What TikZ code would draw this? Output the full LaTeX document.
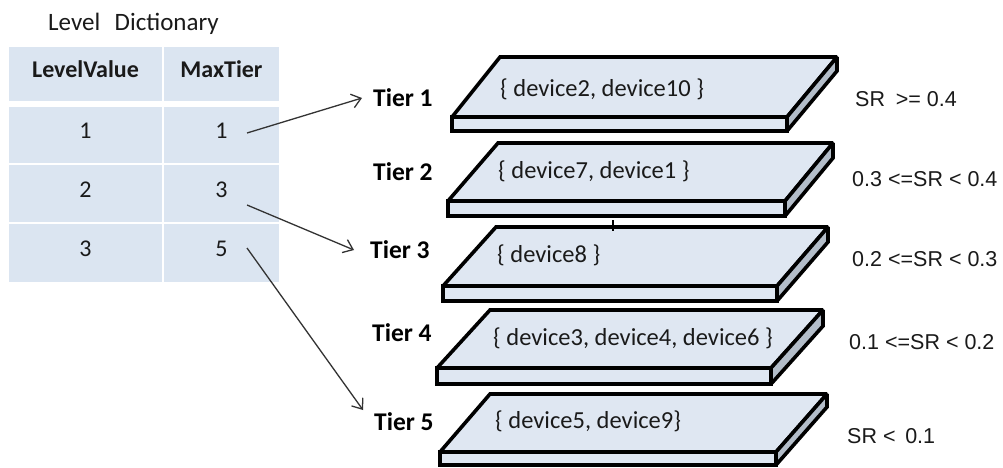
\documentclass[tikz,border=0pt]{standalone}
\usepackage{fontspec}
\setmainfont{Carlito}
\newfontfamily\arialf{Liberation Sans}
\usetikzlibrary{arrows.meta}
\definecolor{tabfill}{HTML}{DBE5F1}
\definecolor{slabfill}{HTML}{DFE7F2}
\definecolor{slabside}{HTML}{B3BDC9}
\definecolor{txt}{HTML}{1A1A1A}
\definecolor{arr}{HTML}{333333}
\newcommand{\tierslab}[7]{%
  % #1 FLx, #2 front y, #3 TLx, #4 top y, #5 TRx, #6 FRx, #7 bottom y
  \pgfmathsetmacro\sbr{#4+#7-#2}%
  \draw[slabline, fill=slabfill] (#3,#4) -- (#5,#4) -- (#6,#2) -- (#1,#2) -- cycle;
  \draw[slabline, fill=slabfill] (#1,#2) rectangle (#6,#7);
  \draw[slabline, fill=slabside] (#6,#2) -- (#5,#4) -- (#5,\sbr) -- (#6,#7) -- cycle;
}
\begin{document}
\begin{tikzpicture}[x=1pt,y=-1pt,
  cell/.style={fill=tabfill, inner sep=0pt, text=txt, text height=15pt, text depth=8pt, font=\fontsize{24}{28}\selectfont},
  head/.style={cell, font=\fontsize{24}{28}\selectfont\bfseries},
  slabline/.style={draw=black, line width=3.6pt, line join=miter, miter limit=1.6},
  devtext/.style={anchor=base west, inner sep=0pt, text=txt, font=\fontsize{24.5}{28}\selectfont},
  tierlab/.style={anchor=base west, inner sep=0pt, text=black, font=\fontsize{25.5}{28}\selectfont\bfseries},
  srlab/.style={anchor=base west, inner sep=0pt, text=txt, font=\arialf\fontsize{21.5}{24}\selectfont},
  link/.style={draw=arr, line width=1.3pt, -{Straight Barb[length=9pt,width=14pt,line width=1.3pt]}}
]
\useasboundingbox (0,0) rectangle (1003,467);
\fill[white] (0,0) rectangle (1003,467);

% table
\node[anchor=base west, inner sep=0pt, text=txt, font=\fontsize{25}{28}\selectfont] (title) at (48,30) {Level\hspace{0.35em} Dictionary};
\node[head, minimum width=153pt, minimum height=54pt] (h1) at (85.5,74) {LevelValue};
\node[head, minimum width=115pt, minimum height=54pt] (h2) at (221.5,74) {MaxTier};
\node[cell, minimum width=153pt, minimum height=56pt] (r1c1) at (85.5,135) {1};
\node[cell, minimum width=115pt, minimum height=56pt] (r1c2) at (221.5,135) {1};
\node[cell, minimum width=153pt, minimum height=57pt] (r2c1) at (85.5,193.5) {2};
\node[cell, minimum width=115pt, minimum height=57pt] (r2c2) at (221.5,193.5) {3};
\node[cell, minimum width=153pt, minimum height=58pt] (r3c1) at (85.5,253) {3};
\node[cell, minimum width=115pt, minimum height=58pt] (r3c2) at (221.5,253) {5};

% slabs
\tierslab{452}{117}{500}{57}{837}{787}{131}
\tierslab{448}{201}{498}{143}{833}{785}{216}
\tierslab{443}{286}{496}{227}{828}{777}{301}
\tierslab{437}{368}{490}{310}{823}{771}{384}
\tierslab{440}{452}{490}{394}{827}{776}{465}
\draw[line width=1.6pt] (613,220) -- (613,231);

\node[devtext] (d1) at (500,96) {\{ device2, device10 \}};
\node[devtext] (d2) at (498,178) {\{ device7, device1 \}};
\node[devtext] (d3) at (497,262) {\{ device8 \}};
\node[devtext] (d4) at (493,345) {\{ device3, device4, device6 \}};
\node[devtext] (d5) at (495,428) {\{ device5, device9\}};

% tier labels
\node[tierlab] (t1) at (373,106) {Tier 1};
\node[tierlab] (t2) at (373,180) {Tier 2};
\node[tierlab] (t3) at (370,258) {Tier 3};
\node[tierlab] (t4) at (372,341) {Tier 4};
\node[tierlab] (t5) at (374,430) {Tier 5};

% SR labels
\node[srlab] (s1) at (855,106) {SR\hspace{0.5em}>= 0.4};
\node[srlab] (s2) at (852,186) {0.3 <=SR < 0.4};
\node[srlab] (s3) at (852,266) {0.2 <=SR < 0.3};
\node[srlab] (s4) at (849,349) {0.1 <=SR < 0.2};
\node[srlab] (s5) at (847,443) {SR <\hspace{0.45em}0.1};

% arrows
\coordinate (a1) at (247,133);
\coordinate (a2) at (247,205);
\coordinate (a3) at (247,248);
\coordinate (e1) at (362,98);
\coordinate (e2) at (354,250);
\coordinate (e3) at (363,410);
\draw[link] (a1) -- (e1);
\draw[link] (a2) -- (e2);
\draw[link] (a3) -- (e3);
\end{tikzpicture}
\end{document}
